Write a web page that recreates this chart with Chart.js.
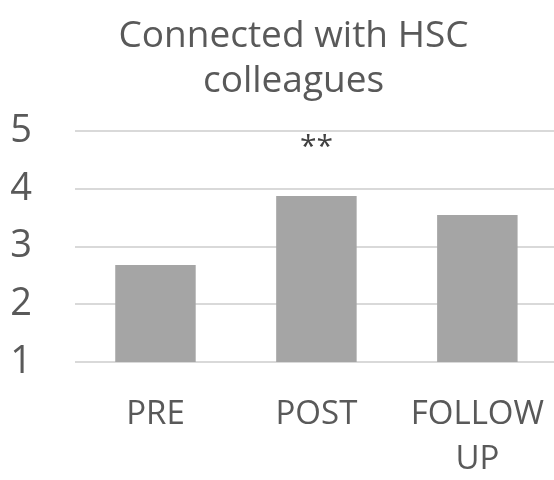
<!DOCTYPE html>
<html>
<head>
<meta charset="utf-8">
<script src="https://cdn.jsdelivr.net/npm/chart.js@4.4.1/dist/chart.umd.min.js"></script>
<style>
  html, body { margin: 0; padding: 0; background: #fff; overflow: hidden; }
  #grafico { display: block; }
</style>
</head>
<body>
<canvas id="grafico" width="566" height="480"></canvas>
<script>
// dados do gráfico
const categorias = [['PRE'], ['POST'], ['FOLLOW', 'UP']];
const valores = [2.68, 3.88, 3.55];
const significancia = ['', '**', ''];
const ticksY = [1, 2, 3, 4, 5];

const fonte = "'Open Sans', sans-serif";
const corTexto = '#595959';

// título deslocado para a direita + asteriscos acima das barras
const extras = {
    id: 'extras',
    beforeDraw(chart) {
        chart.titleBlock.left = 30;
        chart.titleBlock.right = 557;
    },
    afterDatasetsDraw(chart) {
        const c = chart.ctx;
        const x = chart.scales.x;
        const y = chart.scales.y;
        c.save();
        c.font = '30px ' + fonte;
        c.fillStyle = '#404040';
        c.textAlign = 'center';
        c.textBaseline = 'middle';
        significancia.forEach((s, i) => {
            if (s) c.fillText(s, x.getPixelForValue(i), y.getPixelForValue(4.72));
        });
        c.restore();
    }
};

const ctx = document.getElementById('grafico').getContext('2d');

new Chart(ctx, {
    type: 'bar',
    data: {
        labels: categorias,
        datasets: [{
            data: valores,
            backgroundColor: '#a5a5a5',
            categoryPercentage: 1,
            barPercentage: 0.5
        }]
    },
    options: {
        responsive: false,
        animation: false,
        layout: { padding: { left: 0, right: 0, top: 0, bottom: 0 } },
        plugins: {
            legend: { display: false },
            tooltip: { enabled: false },
            title: {
                display: true,
                text: ['Connected with HSC', 'colleagues'],
                color: corTexto,
                font: { family: fonte, size: 37, weight: 'normal', lineHeight: 1.22 },
                padding: { top: 14, bottom: 27 }
            }
        },
        scales: {
            x: {
                grid: { display: false },
                border: { display: false },
                afterFit: (axis) => { axis.height = 118; },
                ticks: {
                    color: corTexto,
                    font: { family: fonte, size: 33, lineHeight: 1.36 },
                    padding: 22,
                    maxRotation: 0
                }
            },
            y: {
                min: 1,
                max: 5,
                afterBuildTicks: (axis) => { axis.ticks = ticksY.map(v => ({ value: v })); },
                afterFit: (axis) => { axis.width = 75; },
                grid: { color: '#d9d9d9', lineWidth: 2, drawTicks: false },
                border: { display: false },
                ticks: {
                    color: corTexto,
                    font: { family: fonte, size: 38 },
                    padding: 43
                }
            }
        }
    },
    plugins: [extras]
});
</script>
</body>
</html>
